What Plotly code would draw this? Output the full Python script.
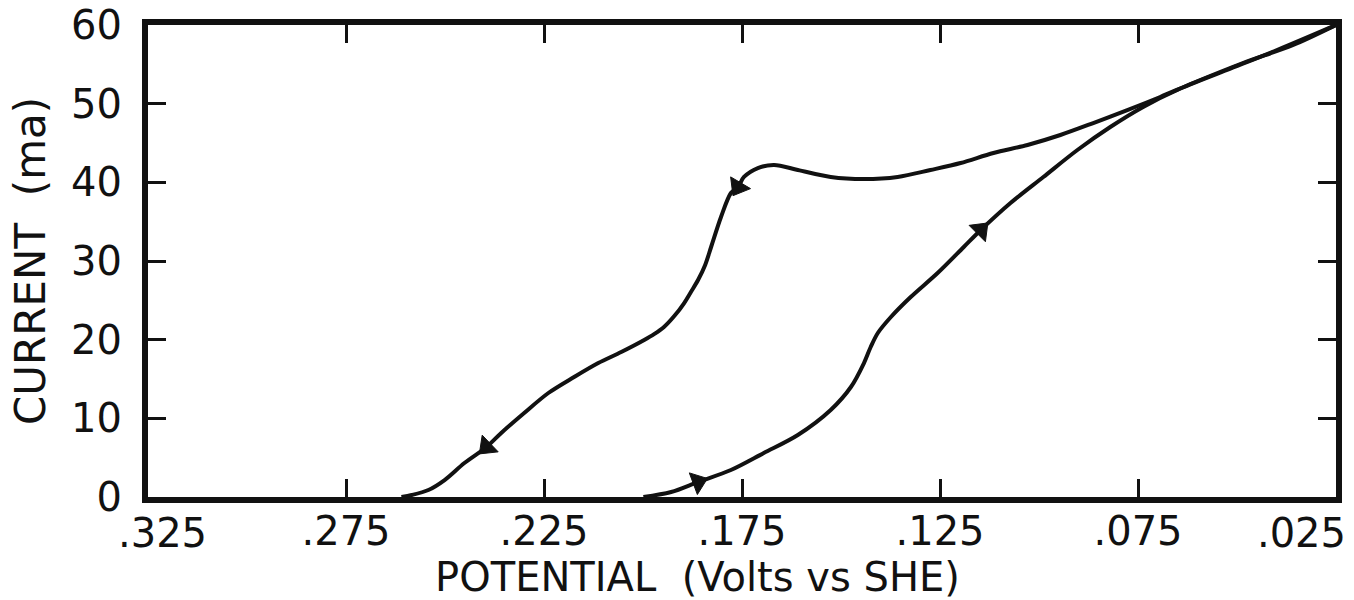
import plotly.graph_objects as go

# Forward (anodic) sweep: potential decreasing from .200 to .025 V
fwd_potential = [0.1999, 0.1929, 0.1861, 0.1778, 0.1695, 0.1609, 0.1526, 0.1475,
                 0.1442, 0.1425, 0.1407, 0.1374, 0.1324, 0.1256, 0.1190, 0.1147,
                 0.1072, 0.0989, 0.0903, 0.0820, 0.0737, 0.0651, 0.0525, 0.0399, 0.0250]
fwd_current = [0.0, 0.64, 1.91, 3.43, 5.59, 7.88, 11.06, 13.98,
               17.03, 19.07, 20.85, 22.88, 25.42, 28.47, 31.78, 33.94,
               37.37, 40.68, 44.11, 47.03, 49.58, 51.74, 54.28, 56.82, 60.0]

# Reverse sweep: potential increasing from .025 back to .261 V
rev_potential = [0.0250, 0.0358, 0.0485, 0.0611, 0.0694, 0.0777, 0.0863, 0.0946,
                 0.1029, 0.1115, 0.1198, 0.1274, 0.1357, 0.1442, 0.1526, 0.1609,
                 0.1669, 0.1710, 0.1745, 0.1760, 0.1778, 0.1803, 0.1828, 0.1843,
                 0.1861, 0.1879, 0.1896, 0.1921, 0.1947, 0.1972, 0.1997, 0.2055,
                 0.2113, 0.2174, 0.2239, 0.2300, 0.2358, 0.2395, 0.2451, 0.2501,
                 0.2542, 0.2584, 0.2610]
rev_current = [60.0, 57.46, 55.17, 52.63, 50.85, 49.19, 47.54, 46.02,
               44.75, 43.73, 42.46, 41.57, 40.68, 40.42, 40.68, 41.57,
               42.20, 41.82, 40.68, 39.40, 38.64, 35.59, 31.78, 29.50,
               27.58, 26.06, 24.66, 23.00, 21.61, 20.70, 19.96, 18.43,
               17.03, 15.25, 13.22, 10.68, 8.14, 6.36, 4.32, 2.16,
               0.89, 0.25, 0.0]

# indices of points carrying direction arrows
fwd_arrow_idx = [2, 15]
rev_arrow_idx = [19, 37]

x_range = [0.325, 0.025]
x_tickvals = [0.275, 0.225, 0.175, 0.125, 0.075]
x_ticktext = [".275", ".225", ".175", ".125", ".075"]
x_left_val, x_left_text = 0.325, ".325"
x_right_val, x_right_text = 0.025, ".025"
y_tickvals = [0, 10, 20, 30, 40, 50, 60]
y_ticktext = ["0", "10", "20", "30", "40", "50", "60"]
x_title = "POTENTIAL  (Volts vs SHE)"
y_title = "CURRENT  (ma)"

FONT = "DejaVu Sans"
BLACK = "#111111"
TICKFONT = dict(family=FONT, size=40, color=BLACK)
# trailing pad so the centred axis title sits left of centre as in the original
TITLE_PAD = "\u00a0" * 7 + "\u200b"

fig = go.Figure()

for xs, ys in [(fwd_potential, fwd_current), (rev_potential, rev_current)]:
    fig.add_trace(go.Scatter(
        x=xs, y=ys, mode="lines",
        line=dict(color=BLACK, width=4, shape="spline", smoothing=0.9),
        hoverinfo="skip", showlegend=False))

for xs, ys, idxs in [(fwd_potential, fwd_current, fwd_arrow_idx),
                     (rev_potential, rev_current, rev_arrow_idx)]:
    for k in idxs:
        fig.add_trace(go.Scatter(
            x=[xs[k - 1], xs[k]], y=[ys[k - 1], ys[k]], mode="markers",
            marker=dict(symbol="triangle-up", size=[0, 20], color=BLACK,
                        angleref="previous", opacity=1,
                        line=dict(width=1, color=BLACK)),
            hoverinfo="skip", showlegend=False))

axis_common = dict(
    showline=True, linecolor=BLACK, linewidth=6, mirror="ticks",
    ticks="inside", tickcolor=BLACK, tickwidth=3, ticklen=18,
    showgrid=False, zeroline=False, automargin=False,
    ticklabeloverflow="allow", tickfont=TICKFONT,
)

edge_axis = dict(
    range=x_range, overlaying="x", anchor="y", side="bottom",
    ticks="", showline=False, showgrid=False, zeroline=False,
    automargin=False, ticklabeloverflow="allow", tickfont=TICKFONT,
    ticklabelstandoff=9,
)

fig.update_layout(
    xaxis=dict(
        range=x_range,
        tickvals=[x_left_val] + x_tickvals + [x_right_val],
        ticktext=[""] + x_ticktext + [""],
        ticklabelstandoff=-6,
        title=dict(text=x_title + TITLE_PAD, standoff=10,
                   font=dict(family=FONT, size=40, color=BLACK)),
        **axis_common),
    # edge labels of the potential axis, aligned inward like the original
    # (axis is reversed, so positive shift moves labels to the left)
    xaxis2=dict(tickvals=[x_left_val], ticktext=[x_left_text],
                ticklabelposition="outside right", ticklabelshift=30,
                **edge_axis),
    xaxis3=dict(tickvals=[x_right_val], ticktext=[x_right_text],
                ticklabelposition="outside left", ticklabelshift=-10,
                **edge_axis),
    yaxis=dict(
        range=[0, 60], tickvals=y_tickvals, ticktext=y_ticktext,
        ticklabelstandoff=12, **axis_common),
    annotations=[dict(
        text=y_title, xref="paper", yref="paper", x=0, y=0.5,
        xanchor="center", yanchor="middle", xshift=-118, textangle=-90,
        showarrow=False, font=dict(family=FONT, size=42, color=BLACK))],
    width=1354, height=600,
    margin=dict(l=148, r=18, t=25, b=103),
    paper_bgcolor="white", plot_bgcolor="white",
)

# invisible helper traces so the label-only axes are drawn
fig.add_trace(go.Scatter(x=[x_left_val], y=[0], xaxis="x2", mode="markers",
                         marker=dict(size=0, opacity=0), hoverinfo="skip",
                         showlegend=False))
fig.add_trace(go.Scatter(x=[x_right_val], y=[0], xaxis="x3", mode="markers",
                         marker=dict(size=0, opacity=0), hoverinfo="skip",
                         showlegend=False))

fig.write_html("out.html")
